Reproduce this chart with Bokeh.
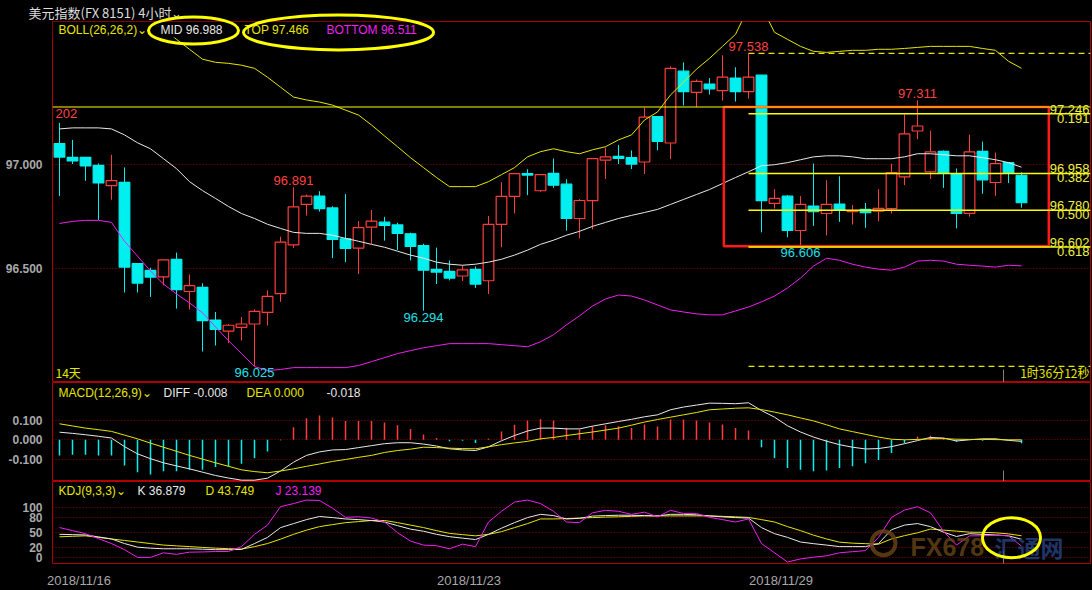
from bokeh.plotting import figure
from bokeh.layouts import column
from bokeh.models import Range1d, FixedTicker, Label, BoxAnnotation, NumeralTickFormatter
from bokeh.embed import file_html
from bokeh.resources import INLINE

# ---------------- data (4h candles, USD index) ----------------
opens = [97.102, 97.035, 97.035, 96.997, 96.899, 96.915, 96.522, 96.489, 96.458, 96.542,
         96.387, 96.407, 96.249, 96.195, 96.214, 96.230, 96.286, 96.377, 96.612, 96.808,
         96.848, 96.791, 96.642, 96.597, 96.698, 96.722, 96.709, 96.666, 96.609, 96.494,
         96.484, 96.462, 96.494, 96.439, 96.712, 96.847, 96.957, 96.874, 96.958, 96.906,
         96.740, 96.826, 97.022, 97.040, 97.034, 97.013, 97.232, 97.105, 97.452, 97.350,
         97.390, 97.358, 97.419, 97.353, 97.433, 96.813, 96.848, 96.682, 96.800, 96.764,
         96.810, 96.773, 96.784, 96.775, 96.788, 96.941, 97.163, 96.966, 97.064, 96.955,
         96.765, 97.064, 96.914, 97.010, 96.949]
highs = [97.202, 97.120, 97.035, 97.006, 97.048, 96.987, 96.522, 96.502, 96.540, 96.575,
         96.470, 96.427, 96.288, 96.230, 96.264, 96.300, 96.393, 96.652, 96.891, 96.856,
         96.872, 96.799, 96.858, 96.728, 96.781, 96.748, 96.719, 96.671, 96.618, 96.599,
         96.537, 96.514, 96.508, 96.752, 96.915, 96.957, 96.978, 96.952, 97.030, 96.930,
         96.834, 97.029, 97.083, 97.096, 97.069, 97.276, 97.232, 97.476, 97.495, 97.412,
         97.419, 97.529, 97.471, 97.538, 97.433, 96.882, 96.853, 96.848, 97.006, 96.925,
         96.944, 96.805, 96.815, 96.882, 97.005, 97.243, 97.311, 97.165, 97.069, 96.982,
         97.145, 97.112, 97.059, 97.010, 96.963]
lows = [96.848, 97.003, 96.922, 96.733, 96.831, 96.382, 96.382, 96.361, 96.417, 96.304,
        96.300, 96.097, 96.126, 96.137, 96.150, 96.025, 96.222, 96.337, 96.597, 96.754,
        96.773, 96.548, 96.529, 96.471, 96.617, 96.633, 96.588, 96.537, 96.294, 96.423,
        96.441, 96.438, 96.404, 96.375, 96.601, 96.764, 96.853, 96.869, 96.888, 96.681,
        96.644, 96.687, 96.931, 97.003, 96.979, 96.955, 97.070, 97.027, 97.286, 97.278,
        97.339, 97.310, 97.305, 97.319, 96.673, 96.788, 96.649, 96.606, 96.704, 96.658,
        96.724, 96.711, 96.695, 96.727, 96.764, 96.901, 97.123, 96.931, 96.888, 96.692,
        96.749, 96.859, 96.850, 96.911, 96.792]
closes = [97.037, 97.018, 96.994, 96.912, 96.923, 96.505, 96.428, 96.457, 96.540, 96.396,
          96.415, 96.246, 96.204, 96.224, 96.230, 96.291, 96.363, 96.626, 96.796, 96.848,
          96.788, 96.639, 96.596, 96.696, 96.727, 96.706, 96.668, 96.605, 96.490, 96.481,
          96.452, 96.492, 96.423, 96.712, 96.847, 96.957, 96.950, 96.952, 96.901, 96.740,
          96.827, 97.029, 97.038, 97.030, 97.003, 97.230, 97.113, 97.466, 97.353, 97.403,
          97.367, 97.423, 97.353, 97.423, 96.826, 96.837, 96.682, 96.808, 96.773, 96.808,
          96.781, 96.778, 96.768, 96.789, 96.962, 97.149, 97.187, 97.062, 96.960, 96.764,
          97.062, 96.927, 97.005, 96.960, 96.816]

boll_top = [97.635, 97.635, 97.635, 97.635, 97.635, 97.654, 97.668, 97.678, 97.659, 97.606,
            97.558, 97.510, 97.495, 97.490, 97.481, 97.466, 97.423, 97.375, 97.327, 97.313,
            97.303, 97.288, 97.264, 97.240, 97.192, 97.139, 97.087, 97.034, 96.986, 96.938,
            96.894, 96.894, 96.894, 96.918, 96.952, 96.986, 97.038, 97.063, 97.077, 97.063,
            97.053, 97.072, 97.087, 97.120, 97.144, 97.216, 97.255, 97.337, 97.399, 97.462,
            97.514, 97.572, 97.630, 97.760, 97.765, 97.640, 97.606, 97.572, 97.548, 97.543,
            97.548, 97.553, 97.553, 97.558, 97.558, 97.562, 97.567, 97.572, 97.572, 97.572,
            97.572, 97.562, 97.553, 97.500, 97.466]
boll_mid = [97.173, 97.178, 97.178, 97.178, 97.173, 97.144, 97.106, 97.077, 97.029, 96.981,
            96.918, 96.875, 96.837, 96.798, 96.764, 96.740, 96.712, 96.692, 96.673, 96.668,
            96.668, 96.659, 96.644, 96.630, 96.615, 96.601, 96.582, 96.563, 96.548, 96.529,
            96.519, 96.514, 96.519, 96.529, 96.543, 96.563, 96.587, 96.615, 96.635, 96.659,
            96.678, 96.702, 96.721, 96.740, 96.755, 96.769, 96.784, 96.808, 96.832, 96.856,
            96.880, 96.909, 96.938, 96.966, 96.995, 97.000, 97.010, 97.024, 97.038, 97.043,
            97.043, 97.038, 97.029, 97.029, 97.029, 97.038, 97.053, 97.053, 97.048, 97.043,
            97.043, 97.034, 97.024, 97.010, 96.988]
boll_bot = [96.716, 96.726, 96.731, 96.731, 96.721, 96.630, 96.558, 96.486, 96.423, 96.375,
            96.332, 96.284, 96.216, 96.149, 96.087, 96.024, 96.005, 96.010, 96.019, 96.019,
            96.019, 96.019, 96.019, 96.029, 96.048, 96.067, 96.087, 96.101, 96.115, 96.125,
            96.135, 96.135, 96.135, 96.135, 96.130, 96.125, 96.120, 96.144, 96.178, 96.226,
            96.269, 96.317, 96.351, 96.370, 96.365, 96.346, 96.322, 96.298, 96.288, 96.279,
            96.274, 96.274, 96.293, 96.312, 96.337, 96.365, 96.404, 96.452, 96.510, 96.548,
            96.538, 96.519, 96.505, 96.495, 96.490, 96.505, 96.534, 96.538, 96.534, 96.519,
            96.514, 96.510, 96.505, 96.514, 96.511]

macd_diff = [0.039, 0.033, 0.026, 0.018, 0.009, -0.035, -0.072, -0.097, -0.118, -0.134,
             -0.149, -0.166, -0.183, -0.196, -0.207, -0.207, -0.197, -0.160, -0.115, -0.080,
             -0.062, -0.052, -0.050, -0.040, -0.030, -0.020, -0.015, -0.015, -0.022, -0.032,
             -0.046, -0.052, -0.055, -0.036, -0.005, 0.022, 0.045, 0.060, 0.060, 0.056,
             0.056, 0.070, 0.082, 0.094, 0.105, 0.118, 0.128, 0.154, 0.168, 0.178,
             0.188, 0.187, 0.185, 0.190, 0.150, 0.116, 0.072, 0.040, 0.014, -0.007,
             -0.025, -0.038, -0.047, -0.045, -0.035, -0.020, -0.004, 0.012, 0.009, -0.006,
             0.000, 0.005, 0.005, -0.003, -0.008]
macd_dea = [0.082, 0.071, 0.060, 0.052, 0.043, 0.024, 0.005, -0.017, -0.038, -0.059,
            -0.080, -0.099, -0.118, -0.136, -0.154, -0.163, -0.169, -0.160, -0.149, -0.136,
            -0.124, -0.111, -0.101, -0.090, -0.080, -0.065, -0.055, -0.048, -0.038, -0.040,
            -0.043, -0.045, -0.046, -0.036, -0.025, -0.016, -0.008, 0.005, 0.012, 0.022,
            0.031, 0.040, 0.050, 0.060, 0.075, 0.091, 0.104, 0.116, 0.128, 0.140,
            0.154, 0.158, 0.162, 0.164, 0.155, 0.142, 0.128, 0.112, 0.097, 0.077,
            0.056, 0.042, 0.028, 0.014, 0.003, 0.000, 0.002, 0.005, 0.006, 0.003,
            0.002, 0.002, 0.001, 0.000, 0.000]
macd_hist = [-0.080, -0.077, -0.077, -0.080, -0.080, -0.132, -0.166, -0.178, -0.161, -0.161,
             -0.154, -0.154, -0.140, -0.137, -0.123, -0.094, -0.060, -0.002, 0.065, 0.111,
             0.125, 0.115, 0.097, 0.097, 0.097, 0.089, 0.074, 0.055, 0.027, 0.009,
             -0.007, -0.005, -0.017, 0.007, 0.043, 0.077, 0.099, 0.106, 0.099, 0.062,
             0.053, 0.070, 0.074, 0.070, 0.060, 0.079, 0.068, 0.104, 0.104, 0.099,
             0.089, 0.079, 0.060, 0.048, -0.038, -0.094, -0.145, -0.154, -0.161, -0.157,
             -0.145, -0.135, -0.120, -0.104, -0.068, -0.017, 0.017, 0.021, 0.010, -0.010,
             0.000, -0.005, 0.007, -0.002, -0.018]

kdj_k = [46.6, 46.0, 45.4, 41.5, 37.4, 28.2, 21.0, 19.0, 17.8, 17.8,
         17.8, 17.0, 16.0, 16.0, 16.5, 28.2, 40.5, 60.0, 68.0, 76.0,
         82.2, 80.0, 77.3, 76.0, 74.0, 71.2, 64.0, 57.0, 52.8, 46.6,
         42.0, 39.0, 36.2, 46.6, 58.9, 70.0, 80.0, 86.5, 84.0, 77.3,
         78.5, 83.0, 84.0, 84.7, 84.7, 84.0, 83.4, 86.5, 86.5, 85.5,
         83.4, 81.5, 80.0, 79.1, 60.0, 48.0, 40.5, 31.3, 28.0, 25.2,
         22.1, 22.1, 22.1, 28.2, 55.8, 65.0, 68.1, 62.0, 50.9, 42.3,
         47.9, 46.6, 45.4, 43.6, 36.879]
kdj_d = [41.7, 42.7, 43.6, 40.5, 37.4, 34.4, 31.3, 28.2, 25.2, 23.6,
         22.1, 20.5, 19.0, 18.0, 17.2, 22.0, 28.2, 37.0, 46.6, 55.0,
         62.0, 66.0, 69.9, 72.0, 74.2, 74.2, 70.0, 65.0, 60.1, 54.0,
         48.5, 46.0, 43.6, 46.6, 52.0, 60.0, 68.0, 77.3, 77.3, 78.0,
         79.1, 80.0, 81.0, 81.6, 82.5, 83.4, 83.4, 83.4, 83.4, 83.4,
         83.4, 82.5, 81.5, 80.4, 76.0, 71.2, 62.0, 54.0, 45.0, 37.4,
         31.0, 29.0, 28.0, 27.0, 37.4, 44.0, 49.7, 57.1, 55.0, 53.0,
         50.9, 50.5, 49.7, 47.5, 43.749]
kdj_j = [60.1, 54.0, 47.9, 38.0, 28.2, 16.0, 0.6, 0.6, 9.8, 6.7,
         11.0, 11.5, 12.3, 12.3, 22.1, 46.6, 65.0, 101.8, 108.0, 115.0,
         114.1, 98.8, 80.4, 81.6, 79.1, 71.2, 50.0, 33.1, 25.2, 23.9,
         17.8, 27.0, 22.1, 71.2, 92.6, 111.0, 115.0, 108.0, 92.6, 71.2,
         69.9, 89.6, 94.5, 92.6, 86.5, 90.8, 81.6, 94.5, 88.3, 88.3,
         80.4, 76.0, 71.2, 77.3, 28.2, 9.8, -8.6, -2.5, 1.0, 3.7,
         9.8, 12.0, 14.1, 40.5, 80.4, 95.0, 101.8, 89.6, 52.8, 25.2,
         43.6, 43.6, 44.8, 43.6, 23.139]

price_ticks = [96.5, 97.0]
macd_ticks = [-0.1, 0.0, 0.1]
kdj_ticks = [0, 20, 50, 80, 100]
date_labels = ["2018/11/16", "2018/11/23", "2018/11/29"]
date_start_idx = [-1, 29, 53]           # first 4h bar of each labelled day

high_marks = [18, 53, 66]
low_marks = [15, 28, 57]
fib_ratios = ["0.191", "0.382", "0.500", "0.618"]
fib_prices = [97.246, 96.958, 96.780, 96.602]
fib_start = 53                           # swing high bar
swing_high, swing_low = 97.538, 96.025
hline_price = 97.279
box_left, box_right, box_top, box_bottom = 51.1, 76.1, 97.279, 96.606

# ---------------- style ----------------
RED_BORDER = "#b00000"
GRID = "#8c0000"
CYAN = "#00f0f0"
UPRED = "#ff3c3c"
YEL = "#e6e600"
WHITE = "#e8e8e8"
MAG = "#f020f0"
AXTXT = "#a8a8a8"
FONT = "Liberation Sans"
CJK = "Noto Sans CJK SC"

n = len(closes)
idx = list(range(n))
up = [c >= o for o, c in zip(opens, closes)]

# reference-pixel helpers (for placing annotations only)
def X(px):
    return (px - 59) / 13.0

def P(py):
    return 97 + (163 - py) / 208.0

def M(py):
    return (439.3 - py) / 195.0

def KY(py):
    return (563.7 - py) / 0.544

xr = Range1d(X(52), X(1090))
W = 1092


def base(p, ticks, fmt):
    p.background_fill_color = "black"
    p.border_fill_color = "black"
    p.outline_line_color = RED_BORDER
    p.outline_line_width = 1
    p.yaxis.ticker = FixedTicker(ticks=ticks)
    p.yaxis.formatter = NumeralTickFormatter(format=fmt)
    p.yaxis.axis_line_color = None
    p.yaxis.major_tick_line_color = None
    p.yaxis.minor_tick_line_color = None
    p.yaxis.major_label_text_color = AXTXT
    p.yaxis.major_label_text_font = FONT
    p.yaxis.major_label_text_font_style = "bold"
    p.yaxis.major_label_text_font_size = "12px"
    p.yaxis.major_label_standoff = 4
    p.ygrid.ticker = FixedTicker(ticks=ticks)
    p.ygrid.grid_line_color = GRID
    p.ygrid.grid_line_dash = "1 2"
    p.xgrid.visible = False


def lab(p, x, y, text, color, size="12px", align="left", baseline="middle",
        font=FONT, style="normal", alpha=1.0):
    l = Label(x=x, y=y, text=text, text_color=color, text_font_size=size,
              text_align=align, text_baseline=baseline, text_font=font,
              text_font_style=style, text_alpha=alpha)
    p.add_layout(l)
    return l


# ---------------- main price panel ----------------
p1 = figure(width=W, height=382, x_range=xr, y_range=Range1d(P(382), P(19)),
            output_backend="svg", toolbar_location=None, x_axis_location=None,
            min_border_left=52, min_border_right=2, min_border_bottom=0, min_border_top=19)
base(p1, price_ticks, "0.000")
p1.title.text = "美元指数(FX 8151)  4小时⌄"
p1.title.text_font = CJK
p1.title.text_font_size = "13px"
p1.title.text_font_style = "normal"
p1.title.text_color = "#dcdcdc"
p1.title.offset = -24
p1.title.standoff = 0

wick_col = [UPRED if u else CYAN for u in up]
body_fill = ["black" if u else CYAN for u in up]
body_top = [max(o, c) for o, c in zip(opens, closes)]
body_bot = [min(o, c) for o, c in zip(opens, closes)]

p1.segment(x0=idx, y0=lows, x1=idx, y1=highs, line_color=wick_col, line_width=1)
p1.vbar(x=idx, top=body_top, bottom=body_bot, width=0.82, fill_color=body_fill,
        line_color=wick_col, line_width=1.2)

p1.line(idx, boll_top, line_color=YEL, line_width=1)
p1.line(idx, boll_mid, line_color=WHITE, line_width=1)
p1.line(idx, boll_bot, line_color=MAG, line_width=1)

# drawn analysis objects
p1.quad(left=[box_left], right=[box_right], top=[box_top], bottom=[box_bottom],
        fill_alpha=0, line_color="#ff1a1a", line_width=2.5)
p1.segment(x0=[X(52)], y0=[hline_price], x1=[X(1090)], y1=[hline_price],
           line_color="#ffff00", line_width=1)
p1.segment(x0=[fib_start] * len(fib_prices), y0=fib_prices, x1=[X(1090)] * len(fib_prices),
           y1=fib_prices, line_color="#ffff00", line_width=1.5)
p1.segment(x0=[fib_start, fib_start], y0=[swing_high, swing_low], x1=[X(1090), X(1090)],
           y1=[swing_high, swing_low], line_color="#e6e600", line_width=1.3, line_dash="6 4")
p1.segment(x0=[X(1003)], y0=[P(369)], x1=[X(1003)], y1=[P(383)], line_color="#808080", line_width=1)

for r, pr in zip(fib_ratios, fib_prices):
    lab(p1, X(1089), pr, f"{pr:.3f}", "#f0f040", size="13px", align="right", baseline="bottom")
    lab(p1, X(1089), pr, r, "#f0f040", size="13px", align="right", baseline="top")

for i in high_marks:
    lab(p1, i, highs[i] + 0.01, f"{highs[i]:.3f}", "#ff4040", size="13px", align="center", baseline="bottom")
for i in low_marks:
    lab(p1, i, lows[i] - 0.01, f"{lows[i]:.3f}", "#20e0e8", size="13px", align="center", baseline="top")
lab(p1, X(55), P(112), f"{highs[0]:.3f}"[-3:], "#ff4040", size="13px")

lab(p1, X(55), P(372), "14天", "#e6e600", font=CJK, size="12px")
lab(p1, X(1089), P(372), "1时36分12秒", "#e6e600", font=CJK, size="12px", align="right")

# legend (opaque strip hides the band behind it)
p1.add_layout(BoxAnnotation(left=X(52), right=X(440), bottom=P(35), top=P(19),
                            fill_color="black", fill_alpha=1, line_alpha=0))
lab(p1, X(58), P(28), "BOLL(26,26,2)⌄", YEL)
lab(p1, X(160), P(28), f"MID {boll_mid[-1]:.3f}", WHITE)
lab(p1, X(244), P(28), f"TOP {boll_top[-1]:.3f}", YEL)
lab(p1, X(326), P(28), f"BOTTOM {boll_bot[-1]:.3f}", MAG)

e1 = p1.ellipse(x=[X(193)], y=[P(28)], width=90, height=27, width_units="screen",
                height_units="screen", fill_alpha=0, line_color="#ffff00", line_width=3)
e2 = p1.ellipse(x=[X(338)], y=[P(30)], width=190, height=35, width_units="screen",
                height_units="screen", fill_alpha=0, line_color="#ffff00", line_width=3)
e1.level = "overlay"
e2.level = "overlay"

# ---------------- MACD panel ----------------
p2 = figure(width=W, height=99, x_range=xr, y_range=Range1d(M(481), M(382)),
            output_backend="svg", toolbar_location=None, x_axis_location=None,
            min_border_left=52, min_border_right=2, min_border_bottom=0, min_border_top=0)
base(p2, macd_ticks, "0.000")
hcol = [UPRED if v > 0 else CYAN for v in macd_hist]
p2.segment(x0=idx, y0=[0] * n, x1=idx, y1=macd_hist, line_color=hcol, line_width=1.5)
p2.line(idx, macd_diff, line_color=WHITE, line_width=1)
p2.line(idx, macd_dea, line_color=YEL, line_width=1)
p2.segment(x0=[X(1003)], y0=[M(470)], x1=[X(1003)], y1=[M(482)], line_color="#808080", line_width=1)
lab(p2, X(58), M(392), "MACD(12,26,9)⌄", YEL)
lab(p2, X(163), M(392), f"DIFF {macd_diff[-1]:.3f}", WHITE)
lab(p2, X(246), M(392), f"DEA {macd_dea[-1]:.3f}", YEL)
lab(p2, X(326), M(392), f"{macd_hist[-1]:.3f}", WHITE)

# ---------------- KDJ panel ----------------
p3 = figure(width=W, height=109, x_range=xr, y_range=Range1d(KY(570), KY(481)),
            output_backend="svg", toolbar_location=None,
            min_border_left=52, min_border_right=2, min_border_bottom=20, min_border_top=0)
base(p3, kdj_ticks, "0")
p3.line(idx, kdj_d, line_color=YEL, line_width=1)
p3.line(idx, kdj_k, line_color=WHITE, line_width=1)
p3.line(idx, kdj_j, line_color=MAG, line_width=1)
p3.segment(x0=[X(1003)], y0=[KY(556)], x1=[X(1003)], y1=[KY(571)], line_color="#808080", line_width=1)
lab(p3, X(58), KY(491), "KDJ(9,3,3)⌄", YEL)
lab(p3, X(137), KY(491), f"K {kdj_k[-1]:.3f}", WHITE)
lab(p3, X(205), KY(491), f"D {kdj_d[-1]:.3f}", YEL)
lab(p3, X(275), KY(491), f"J {kdj_j[-1]:.3f}", MAG)

# watermark
wm = p3.ellipse(x=[X(883)], y=[KY(548)], width=24, height=24, width_units="screen",
                height_units="screen", fill_alpha=0, line_color="#6a4618", line_width=4, line_alpha=0.8)
wm.level = "overlay"
lab(p3, X(910), KY(552), "FX678", "#6a4618", size="25px", style="bold", alpha=0.8)
lab(p3, X(994), KY(552), "汇通网", "#28478a", size="23px", font=CJK, style="bold", alpha=0.75)
e3 = p3.ellipse(x=[X(1011)], y=[KY(542)], width=58, height=40, width_units="screen",
                height_units="screen", fill_alpha=0, line_color="#ffff00", line_width=3)
e3.level = "overlay"

ticks_x = [s + 2.5 for s in date_start_idx]
p3.xaxis.ticker = FixedTicker(ticks=ticks_x)
p3.xaxis.major_label_overrides = {t: l for t, l in zip(ticks_x, date_labels)}
p3.xaxis.axis_line_color = None
p3.xaxis.major_tick_line_color = None
p3.xaxis.minor_tick_line_color = None
p3.xaxis.major_label_text_color = AXTXT
p3.xaxis.major_label_text_font = FONT
p3.xaxis.major_label_text_font_size = "13px"
p3.xaxis.major_label_standoff = 3

layout = column(p1, p2, p3, spacing=0, styles={"background-color": "black"})
open("out.html", "w").write(file_html(layout, INLINE))
